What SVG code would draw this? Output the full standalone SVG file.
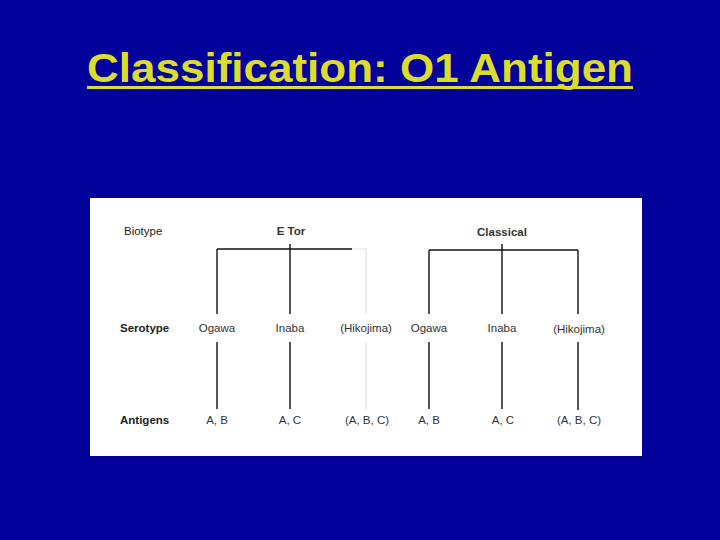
<svg xmlns="http://www.w3.org/2000/svg" width="720" height="540" viewBox="0 0 720 540">
<style>
.title{font-family:"Liberation Sans",Arial,sans-serif;font-weight:bold;font-size:41px;fill:#DCDC2C}
.lbl{font-family:"Liberation Sans",Arial,sans-serif;font-size:11.5px;fill:#333;text-anchor:middle}
.hd{font-family:"Liberation Sans",Arial,sans-serif;font-size:11.5px;font-weight:bold;fill:#222}
.hn{font-family:"Liberation Sans",Arial,sans-serif;font-size:11.5px;fill:#222}
.ln{stroke:#111;stroke-width:1.4;fill:none}
.lt{stroke:#e2e2e2;stroke-width:1.2;fill:none}
</style>
<rect width="720" height="540" fill="#02029A"/>
<g id="title">
<text class="title" x="87" y="82" textLength="546" lengthAdjust="spacingAndGlyphs">Classification: O1 Antigen</text>
<rect x="87" y="86" width="546" height="3" fill="#DCDC2C"/>
</g>
<rect x="90" y="198" width="552" height="258" fill="#fff"/>
<g id="row-labels">
<text class="hn" x="124" y="235">Biotype</text>
<text class="hd" x="120" y="332">Serotype</text>
<text class="hd" x="120" y="424">Antigens</text>
</g>
<g id="eltor"><text class="lbl" x="291" y="235" font-weight="bold">E  Tor</text></g>
<g id="classical"><text class="lbl" x="502" y="236" font-weight="bold">Classical</text></g>
<g id="eltor-ogawa"><text class="lbl" x="217" y="332">Ogawa</text><text class="lbl" x="217" y="424">A, B</text></g>
<g id="eltor-inaba"><text class="lbl" x="290" y="332">Inaba</text><text class="lbl" x="290" y="424">A, C</text></g>
<g id="eltor-hikojima"><text class="lbl" x="366" y="332">(Hikojima)</text><text class="lbl" x="367" y="424">(A, B, C)</text></g>
<g id="classical-ogawa"><text class="lbl" x="429" y="332">Ogawa</text><text class="lbl" x="429" y="424">A, B</text></g>
<g id="classical-inaba"><text class="lbl" x="502" y="332">Inaba</text><text class="lbl" x="503" y="424">A, C</text></g>
<g id="classical-hikojima"><text class="lbl" x="579" y="333">(Hikojima)</text><text class="lbl" x="579" y="424">(A, B, C)</text></g>
<g id="connectors">
<path class="ln" d="M217 249H352M290 244V314M217 249V314"/>
<path class="lt" d="M352 249H366V314M366 342V410"/>
<path class="ln" d="M429 250H578M502 244V314M429 250V314M578 250V314"/>
<path class="ln" d="M217 342V409M290 342V409M429 342V409M502 342V409"/>
<path class="ln" stroke-width="2" d="M578 342V410"/>
</g>
</svg>
